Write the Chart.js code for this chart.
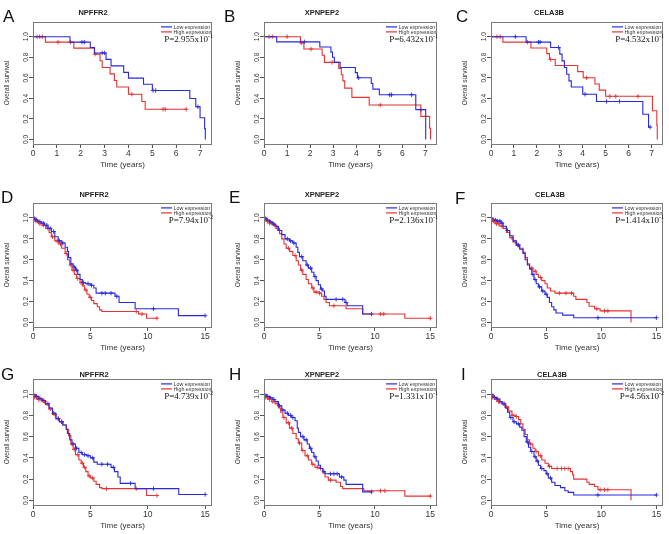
<!DOCTYPE html>
<html>
<head>
<meta charset="utf-8">
<script src="https://cdn.jsdelivr.net/npm/chart.js@4.4.1/dist/chart.umd.min.js"></script>
<style>
  html, body { margin: 0; padding: 0; background: #fff; }
  body { width: 669px; height: 534px; position: relative; overflow: hidden; font-family: "Liberation Sans", Arial, sans-serif; }
  canvas { position: absolute; }
  .letter { position: absolute; font-size: 17px; line-height: 17px; color: #111; }
  .gene { position: absolute; font-size: 7.5px; font-weight: bold; color: #222; transform: translate(-50%, -50%); white-space: nowrap; }
</style>
</head>
<body>
<script>
// tick labels
const shortTicks = [0, 1, 2, 3, 4, 5, 6, 7];
const longTicks = [0, 5, 10, 15];
const survTicks = [0, 0.2, 0.4, 0.6, 0.8, 1.0];
const legendLabels = ['Low expression', 'High expression'];

// Kaplan-Meier steps [time, survival] and censor times
// A - NPFFR2
const A_low = [[0,1],[1.55,0.947],[2.4,0.895],[2.57,0.842],[3.06,0.779],[3.27,0.716],[3.8,0.653],[4.0,0.597],[4.63,0.537],[5.0,0.477],[6.57,0.398],[6.82,0.318],[7.0,0.212],[7.19,0.106],[7.22,0.0]];
const A_high = [[0,1],[0.52,0.947],[1.71,0.889],[2.58,0.83],[2.81,0.766],[2.9,0.70],[3.23,0.638],[3.41,0.574],[3.51,0.51],[4.0,0.44],[4.56,0.37],[4.7,0.294],[6.42,0.294]];
const A_lowCens = [2.05,2.15,2.9,3.0,5.03,5.14,6.91];
const A_highCens = [0.17,0.28,0.39,1.05,1.57,2.6,4.14,5.45,5.54,6.42];
// B - XPNPEP2
const B_low = [[0,1],[0.55,0.95],[2.42,0.90],[2.9,0.85],[2.97,0.80],[3.05,0.75],[3.3,0.70],[3.96,0.65],[4.05,0.60],[4.65,0.545],[4.72,0.49],[5.0,0.435],[6.58,0.29],[7.01,0.0]];
const B_high = [[0,1],[1.58,0.94],[1.73,0.88],[2.52,0.82],[2.62,0.75],[3.24,0.69],[3.35,0.63],[3.42,0.57],[3.5,0.50],[3.81,0.41],[4.56,0.335],[6.8,0.225],[7.18,0.11],[7.22,0.0]];
const B_lowCens = [1.75,4.1,5.45,5.53,6.4,6.8];
const B_highCens = [0.22,0.36,1.0,1.62,2.04,2.95,5.04];
// C - CELA3B
const C_low = [[0,1],[1.53,0.947],[2.6,0.895],[3.0,0.83],[3.1,0.765],[3.2,0.70],[3.3,0.635],[3.4,0.57],[3.5,0.51],[4.0,0.44],[4.6,0.37],[6.62,0.245],[6.87,0.12],[6.94,0.12]];
const C_high = [[0,1],[0.52,0.947],[1.74,0.89],[2.43,0.835],[2.55,0.778],[2.8,0.72],[3.78,0.66],[4.02,0.60],[4.53,0.54],[4.72,0.48],[5.0,0.42],[7.04,0.28],[7.23,0.14],[7.25,0.0]];
const C_lowCens = [1.06,2.07,2.14,2.94,4.1,5.04,5.6,6.94];
const C_highCens = [0.26,0.4,1.59,2.6,4.17,5.18,5.44,6.41];
// D - NPFFR2
const D_low = [[0,1],[0.15,0.98],[0.4,0.965],[0.7,0.95],[1.0,0.93],[1.3,0.90],[1.6,0.87],[1.9,0.82],[2.2,0.78],[2.5,0.76],[2.8,0.72],[3.0,0.68],[3.1,0.62],[3.3,0.56],[3.5,0.53],[3.7,0.50],[3.9,0.46],[4.1,0.41],[4.3,0.38],[4.6,0.37],[5.0,0.355],[5.3,0.33],[5.5,0.28],[7.15,0.25],[7.5,0.19],[8.9,0.13],[12.67,0.065],[15.0,0.065]];
const D_high = [[0,1],[0.2,0.97],[0.5,0.945],[0.8,0.93],[1.1,0.90],[1.4,0.86],[1.6,0.82],[1.9,0.78],[2.2,0.75],[2.5,0.71],[2.8,0.66],[3.0,0.60],[3.2,0.55],[3.4,0.50],[3.6,0.46],[3.8,0.42],[4.1,0.38],[4.3,0.35],[4.5,0.31],[4.7,0.27],[4.9,0.24],[5.1,0.21],[5.3,0.18],[5.6,0.15],[5.8,0.12],[6.0,0.105],[9.2,0.08],[9.9,0.04],[10.8,0.04]];
const D_lowCens = [0.3,0.6,0.9,1.2,1.5,1.8,2.3,2.6,3.6,3.8,4.4,4.8,5.1,6.0,6.3,6.8,7.3,10.5,15.0];
const D_highCens = [0.1,0.25,0.4,0.6,0.9,1.3,1.7,2.1,2.4,2.9,3.3,3.5,3.9,4.2,4.6,5.0,9.0,9.5,10.8];
// E - XPNPEP2
const E_low = [[0,1],[0.2,0.98],[0.5,0.96],[0.8,0.94],[1.0,0.92],[1.3,0.88],[1.6,0.84],[1.9,0.80],[2.3,0.78],[2.6,0.76],[2.9,0.72],[3.05,0.67],[3.2,0.63],[3.5,0.59],[3.8,0.55],[4.0,0.52],[4.3,0.48],[4.5,0.44],[4.7,0.40],[4.9,0.36],[5.1,0.32],[5.3,0.30],[5.45,0.25],[5.6,0.22],[7.3,0.19],[7.5,0.16],[8.9,0.08],[9.7,0.08]];
const E_high = [[0,1],[0.2,0.97],[0.5,0.95],[0.8,0.93],[1.1,0.90],[1.4,0.85],[1.6,0.80],[1.8,0.75],[2.0,0.71],[2.3,0.68],[2.6,0.64],[2.9,0.59],[3.1,0.55],[3.3,0.50],[3.5,0.46],[3.8,0.41],[4.0,0.37],[4.3,0.33],[4.5,0.29],[5.0,0.28],[5.2,0.25],[5.4,0.22],[5.6,0.19],[5.9,0.16],[7.4,0.13],[8.9,0.08],[12.7,0.04],[15.0,0.04]];
const E_lowCens = [0.3,0.6,0.9,1.4,2.1,2.4,2.7,3.4,3.9,4.2,4.6,5.2,6.5,7.1,7.4,9.7];
const E_highCens = [0.1,0.3,0.5,0.7,1.0,1.2,2.2,2.8,3.4,4.4,4.7,5.0,6.3,10.5,10.8,15.0];
// F - CELA3B
const F_low = [[0,1],[0.2,0.98],[0.5,0.97],[0.9,0.95],[1.1,0.92],[1.4,0.88],[1.7,0.83],[2.0,0.78],[2.3,0.74],[2.6,0.70],[2.9,0.66],[3.1,0.60],[3.3,0.55],[3.5,0.51],[3.7,0.46],[3.9,0.41],[4.1,0.37],[4.3,0.34],[4.6,0.30],[4.9,0.27],[5.1,0.24],[5.3,0.19],[5.5,0.15],[5.7,0.12],[5.9,0.09],[6.5,0.07],[7.5,0.045],[15.0,0.045]];
const F_high = [[0,1],[0.1,0.97],[0.4,0.945],[0.8,0.92],[1.1,0.90],[1.4,0.86],[1.7,0.81],[2.0,0.77],[2.3,0.74],[2.6,0.71],[2.9,0.67],[3.1,0.62],[3.3,0.56],[3.5,0.52],[3.8,0.49],[4.1,0.46],[4.3,0.43],[4.6,0.40],[4.9,0.37],[5.1,0.33],[5.4,0.30],[5.8,0.28],[7.5,0.25],[7.7,0.22],[8.7,0.19],[8.9,0.155],[9.4,0.13],[9.9,0.11],[12.7,0.0]];
const F_lowCens = [0.4,0.6,0.8,1.0,1.5,2.5,3.8,4.0,4.4,4.7,5.0,9.7,15.0];
const F_highCens = [0.2,0.3,0.5,0.7,1.0,1.9,2.2,2.4,3.7,4.0,4.5,6.2,6.8,7.3,9.6,10.3,10.6];
// G - NPFFR2
const G_low = [[0,1],[0.2,0.98],[0.5,0.96],[0.8,0.94],[1.1,0.91],[1.4,0.87],[1.7,0.82],[2.0,0.77],[2.3,0.74],[2.6,0.71],[2.9,0.67],[3.0,0.63],[3.2,0.57],[3.4,0.53],[3.7,0.49],[4.0,0.45],[4.3,0.43],[4.7,0.42],[5.0,0.40],[5.3,0.36],[5.6,0.34],[6.8,0.31],[7.1,0.27],[7.4,0.22],[7.6,0.16],[8.9,0.11],[12.7,0.055],[15.0,0.055]];
const G_high = [[0,1],[0.1,0.97],[0.4,0.95],[0.8,0.93],[1.1,0.90],[1.4,0.86],[1.7,0.81],[2.0,0.77],[2.3,0.74],[2.6,0.71],[2.9,0.67],[3.1,0.61],[3.3,0.53],[3.5,0.48],[3.7,0.43],[4.0,0.38],[4.2,0.35],[4.4,0.31],[4.6,0.27],[4.8,0.23],[5.0,0.21],[5.3,0.18],[5.5,0.15],[5.8,0.12],[6.0,0.11],[9.9,0.045],[10.8,0.045]];
const G_lowCens = [0.3,0.6,0.9,1.3,1.8,2.2,2.5,3.5,3.8,4.2,4.5,4.8,5.2,6.0,6.5,7.0,8.5,10.5,15.0];
const G_highCens = [0.15,0.3,0.5,0.7,1.0,1.5,1.9,2.2,2.5,3.4,3.6,3.9,4.3,4.5,4.9,5.2,6.4,9.0,10.8];
// H - XPNPEP2
const H_low = [[0,1],[0.2,0.98],[0.5,0.965],[0.8,0.95],[1.0,0.93],[1.3,0.89],[1.6,0.85],[1.9,0.82],[2.2,0.80],[2.5,0.78],[2.8,0.75],[3.0,0.68],[3.1,0.64],[3.3,0.60],[3.6,0.57],[3.9,0.53],[4.1,0.49],[4.3,0.45],[4.5,0.41],[4.7,0.37],[4.9,0.33],[5.1,0.30],[5.3,0.27],[5.5,0.25],[6.8,0.22],[7.2,0.19],[7.4,0.15],[8.9,0.08],[9.7,0.08]];
const H_high = [[0,1],[0.1,0.97],[0.4,0.95],[0.7,0.93],[1.0,0.91],[1.3,0.87],[1.5,0.83],[1.7,0.78],[2.0,0.73],[2.3,0.68],[2.6,0.63],[2.9,0.58],[3.1,0.54],[3.4,0.47],[3.7,0.42],[4.0,0.38],[4.3,0.34],[4.6,0.31],[5.0,0.30],[5.3,0.26],[5.5,0.22],[5.8,0.19],[6.5,0.17],[6.9,0.13],[7.1,0.11],[9.0,0.09],[12.7,0.04],[15.0,0.04]];
const H_lowCens = [0.3,0.6,0.9,1.4,1.7,2.1,2.4,2.6,3.5,3.8,4.2,4.6,5.4,6.0,6.3,6.6,7.0,9.7];
const H_highCens = [0.15,0.3,0.5,0.8,1.2,1.8,2.2,2.5,3.2,3.5,3.9,4.4,4.8,5.1,6.0,10.5,10.9,15.0];
// I - CELA3B
const I_low = [[0,1],[0.2,0.97],[0.5,0.955],[0.8,0.93],[1.0,0.91],[1.3,0.87],[1.5,0.83],[1.7,0.78],[2.0,0.74],[2.3,0.72],[2.6,0.69],[2.8,0.66],[3.0,0.60],[3.2,0.55],[3.4,0.50],[3.6,0.46],[3.9,0.41],[4.1,0.37],[4.3,0.33],[4.5,0.30],[4.8,0.28],[5.0,0.25],[5.2,0.21],[5.5,0.17],[5.8,0.14],[6.3,0.12],[6.7,0.09],[7.0,0.075],[7.5,0.05],[15.0,0.05]];
const I_high = [[0,1],[0.1,0.97],[0.4,0.95],[0.7,0.93],[1.0,0.91],[1.3,0.88],[1.6,0.84],[1.9,0.80],[2.2,0.79],[2.5,0.76],[2.7,0.72],[2.9,0.67],[3.1,0.62],[3.3,0.57],[3.5,0.53],[3.8,0.49],[4.0,0.46],[4.3,0.42],[4.6,0.38],[4.9,0.35],[5.2,0.32],[5.5,0.30],[7.2,0.27],[7.4,0.24],[7.5,0.20],[8.7,0.17],[8.9,0.15],[9.4,0.13],[9.7,0.10],[12.7,0.0]];
const I_lowCens = [0.3,0.6,0.8,1.2,1.8,2.1,2.5,3.3,3.7,4.0,4.2,4.6,5.1,5.4,9.7,15.0];
const I_highCens = [0.15,0.3,0.5,0.7,1.1,1.4,2.0,2.3,3.6,4.1,4.5,5.3,6.0,6.4,6.7,7.0,9.9,10.3,10.6];

// p-values: mantissa, exponent
const pMant = ['2.955','6.432','4.532','7.94','2.136','1.414','4.739','1.331','4.56'];
const pExp = ['-1','-1','-1','-2','-1','-1','-2','-1','-2'];
const genes = ['NPFFR2','XPNPEP2','CELA3B','NPFFR2','XPNPEP2','CELA3B','NPFFR2','XPNPEP2','CELA3B'];
const letters = ['A','B','C','D','E','F','G','H','I'];

const BLUE = '#2929e0';
const RED = '#e63232';
const FONT = '"Liberation Sans", Arial, sans-serif';
Chart.defaults.font.family = FONT;

// layout (px) for each panel: plot box [left, top, right, bottom], letter pos, gene title centre
const boxes = [
	[33,21,212,144],[264,21,437,144],[491,21,663,144],
	[33,202,212,327],[264,202,437,327],[491,202,663,327],
	[33,378,212,505],[264,378,437,505],[491,378,663,505]
];
const letterPos = [[3,8],[224,8],[456,8],[1,189],[229,189],[455,190],[1,366],[229,366],[461,366]];
const genePos = [[93,12],[322,12],[549,12],[94,194],[322,194],[550,194],[94,373.5],[322,373.5],[552,373.5]];

function survAt(curve, t) {
	let s = curve[0][1];
	for (const [ti, si] of curve) {
		if (ti <= t) s = si; else break;
	}
	return s;
}

const kmDecor = {
	id: 'kmDecor',
	afterDraw(chart) {
		const o = chart.options.plugins.kmDecor;
		const ctx = chart.ctx;
		const a = chart.chartArea;
		ctx.save();
		// frame
		ctx.strokeStyle = '#7a7a7a';
		ctx.lineWidth = 1;
		ctx.strokeRect(Math.round(a.left) + 0.5, Math.round(a.top) + 0.5, Math.round(a.right - a.left) - 1, Math.round(a.bottom - a.top));
		// rotated y tick labels
		const ys = chart.scales.y;
		ctx.fillStyle = '#333';
		ctx.font = '6.6px ' + FONT;
		ctx.textAlign = 'center';
		ctx.textBaseline = 'middle';
		survTicks.forEach(v => {
			ctx.save();
			ctx.translate(a.left - 7, ys.getPixelForValue(v));
			ctx.rotate(-Math.PI / 2);
			ctx.fillText(v.toFixed(1), 0, 0);
			ctx.restore();
		});
		// legend
		const r = a.right;
		ctx.lineWidth = 1.2;
		[BLUE, RED].forEach((c, i) => {
			const y = a.top + 5 + i * 5;
			ctx.strokeStyle = c;
			ctx.beginPath();
			ctx.moveTo(r - 51, y);
			ctx.lineTo(r - 40, y);
			ctx.stroke();
			ctx.fillStyle = '#333';
			ctx.font = '5.3px ' + FONT;
			ctx.textAlign = 'left';
			ctx.fillText(legendLabels[i], r - 38.5, y + 0.3);
		});
		// p value
		ctx.fillStyle = '#111';
		ctx.textBaseline = 'alphabetic';
		ctx.font = '6px "Liberation Serif", serif';
		const supW = ctx.measureText(o.exp).width;
		const base = a.top + 20;
		ctx.textAlign = 'right';
		ctx.fillText(o.exp, r + 1, base - 4);
		ctx.font = '9px "Liberation Serif", serif';
		ctx.fillText('P=' + o.mant + 'x10', r + 1 - supW, base);
		ctx.restore();
	}
};

const panels = [
	[A_low, A_high, A_lowCens, A_highCens],
	[B_low, B_high, B_lowCens, B_highCens],
	[C_low, C_high, C_lowCens, C_highCens],
	[D_low, D_high, D_lowCens, D_highCens],
	[E_low, E_high, E_lowCens, E_highCens],
	[F_low, F_high, F_lowCens, F_highCens],
	[G_low, G_high, G_lowCens, G_highCens],
	[H_low, H_high, H_lowCens, H_highCens],
	[I_low, I_high, I_lowCens, I_highCens]
];

panels.forEach((pd, i) => {
	const [low, high, lowCens, highCens] = pd;
	const [bl, bt, br, bb] = boxes[i];
	const isShort = i < 3;
	const padL = 3, padT = 4, padR = 6, padB = 3, yW = 30, xH = 26;
	const w = (br - bl) + yW + padL + padR;
	const h = (bb - bt) + padT + xH + padB;
	const canvas = document.createElement('canvas');
	canvas.width = w;
	canvas.height = h;
	canvas.style.left = (bl - yW - padL) + 'px';
	canvas.style.top = (bt - padT) + 'px';
	canvas.style.width = w + 'px';
	canvas.style.height = h + 'px';
	document.body.appendChild(canvas);

	const lt = document.createElement('div');
	lt.className = 'letter';
	lt.textContent = letters[i];
	lt.style.left = letterPos[i][0] + 'px';
	lt.style.top = letterPos[i][1] + 'px';
	document.body.appendChild(lt);

	const gt = document.createElement('div');
	gt.className = 'gene';
	gt.textContent = genes[i];
	gt.style.left = genePos[i][0] + 'px';
	gt.style.top = genePos[i][1] + 'px';
	document.body.appendChild(gt);

	const xTicks = isShort ? shortTicks : longTicks;
	const lineSet = (curve, color) => ({
		data: curve.map(([x, y]) => ({ x: x, y: y })),
		borderColor: color,
		borderWidth: 1.1,
		stepped: true,
		pointRadius: 0,
		fill: false
	});
	const censSet = (times, curve, color) => ({
		data: times.map(t => ({ x: t, y: survAt(curve, t) })),
		showLine: false,
		pointStyle: 'cross',
		pointRadius: 2.2,
		borderColor: color,
		borderWidth: 0.9
	});

	new Chart(canvas, {
		type: 'line',
		data: {
			datasets: [
				lineSet(low, BLUE),
				lineSet(high, RED),
				censSet(lowCens, low, BLUE),
				censSet(highCens, high, RED)
			]
		},
		options: {
			responsive: false,
			animation: false,
			devicePixelRatio: 1,
			layout: { padding: { left: padL, top: padT, right: padR, bottom: padB } },
			plugins: {
				legend: { display: false },
				tooltip: { enabled: false },
				kmDecor: { mant: pMant[i], exp: pExp[i] }
			},
			scales: {
				x: {
					type: 'linear',
					min: 0,
					max: isShort ? 7.5 : 15.6,
					afterBuildTicks: s => { s.ticks = xTicks.map(v => ({ value: v })); },
					afterFit: s => { s.height = xH; },
					grid: { drawOnChartArea: false, drawTicks: true, tickLength: 4, color: '#555' },
					border: { display: false },
					ticks: { font: { size: 8.5 }, color: '#333', padding: 1, maxRotation: 0, autoSkip: false },
					title: { display: true, text: 'Time (years)', font: { size: 8 }, color: '#333', padding: 0 }
				},
				y: {
					type: 'linear',
					min: -0.044,
					max: 1.144,
					afterBuildTicks: s => { s.ticks = survTicks.map(v => ({ value: v })); },
					afterFit: s => { s.width = yW; },
					grid: { drawOnChartArea: false, drawTicks: true, tickLength: 4, color: '#555' },
					border: { display: false },
					ticks: { display: false },
					title: { display: true, text: 'Overall survival', font: { size: 6.5 }, color: '#333', padding: 0 }
				}
			}
		},
		plugins: [kmDecor]
	});
});
</script>
</body>
</html>
